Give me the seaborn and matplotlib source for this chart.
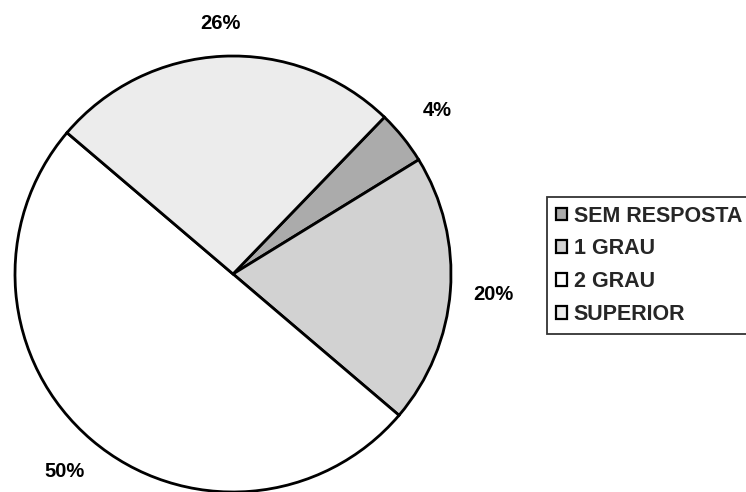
import matplotlib
matplotlib.use("Agg")
import matplotlib.pyplot as plt
import numpy as np
import seaborn as sns

# Education level of respondents (percent)
categories = ["SEM RESPOSTA", "1 GRAU", "2 GRAU", "SUPERIOR"]
values = [4, 20, 50, 26]
slice_colors = ["#ababab", "#d2d2d2", "#ffffff", "#ececec"]
label_radius = [1.2, 1.2, 1.19, 1.15]

sns.set_theme(style="white")
plt.rcParams["font.family"] = ["Liberation Sans", "DejaVu Sans"]

W, H = 746, 492
fig = plt.figure(figsize=(W / 100, H / 100), dpi=100)
ax = fig.add_axes([0, 0, 1, 1])

center = (233, H - 274)
radius = 218
wedges, texts, autotexts = ax.pie(
    values,
    colors=slice_colors,
    startangle=46,
    counterclock=False,
    center=center,
    radius=radius,
    autopct="%.0f%%",
    frame=True,
    wedgeprops=dict(edgecolor="black", linewidth=2.0),
    textprops=dict(fontsize=14.5, fontweight="bold", color="black"),
)
# place each percentage just outside its own wedge
for w, t, r in zip(wedges, autotexts, label_radius):
    mid = np.deg2rad((w.theta1 + w.theta2) / 2)
    t.set_position((center[0] + r * radius * np.cos(mid),
                    center[1] + r * radius * np.sin(mid)))
    t.set_ha("center")
    t.set_va("center")

ax.set_xlim(0, W)
ax.set_ylim(0, H)
ax.set_axis_off()

leg = fig.legend(
    wedges,
    categories,
    loc="upper left",
    bbox_to_anchor=(547 / W, 1 - 197 / H),
    borderaxespad=0,
    frameon=True,
    fancybox=False,
    handlelength=0.55,
    handleheight=0.55,
    handletextpad=0.3,
    labelspacing=0.55,
    borderpad=0.4,
    prop=dict(size=15.5, weight="bold"),
)
leg.get_frame().set_edgecolor("black")
leg.get_frame().set_linewidth(1.3)
for h in leg.legend_handles:
    h.set_linewidth(1.6)

fig.savefig("out.png", dpi=100)
